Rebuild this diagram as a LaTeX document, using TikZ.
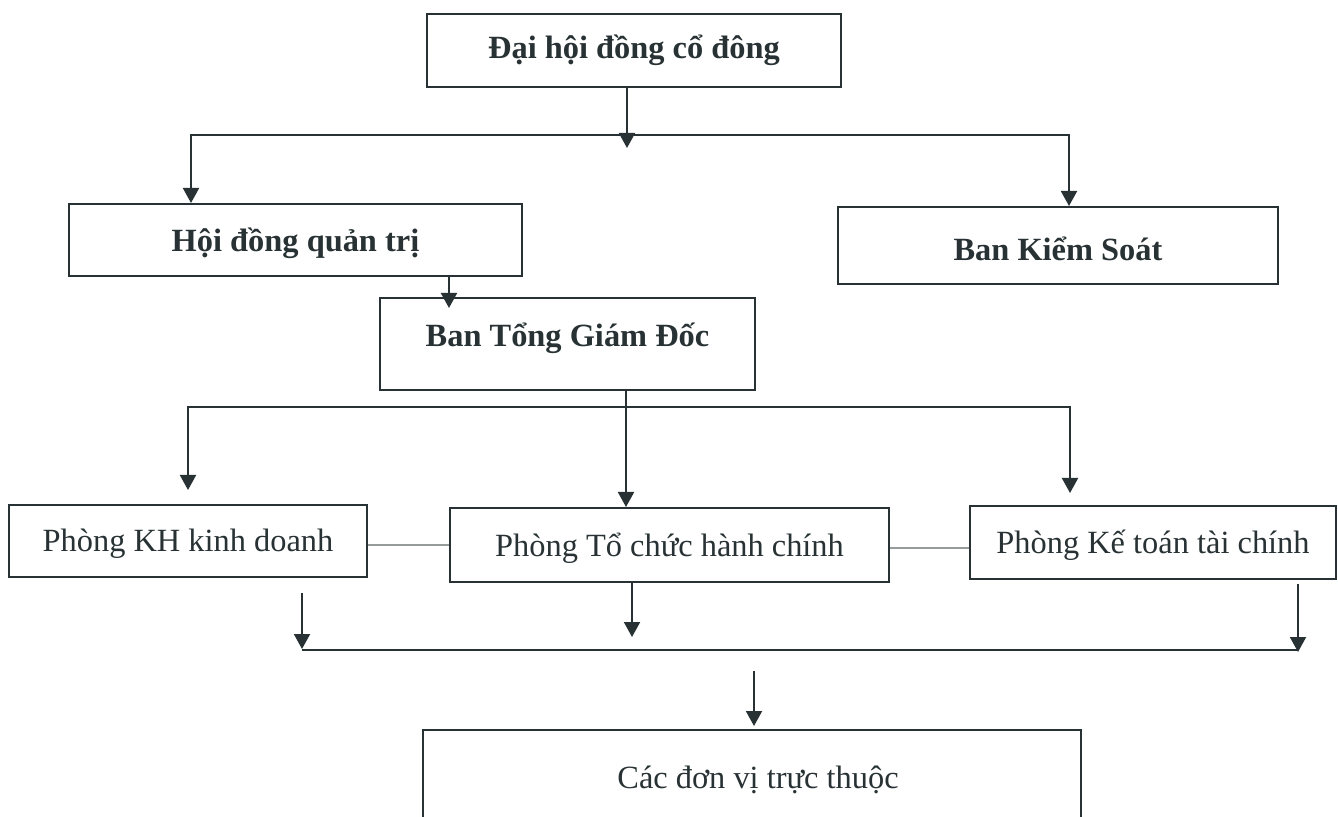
\documentclass[tikz,border=0pt]{standalone}
\usepackage{fontspec}
\setmainfont{Liberation Serif}
\usetikzlibrary{arrows.meta,calc}
\definecolor{ink}{RGB}{40,50,52}
\definecolor{linkgray}{RGB}{150,155,155}
\newcommand\lowr[1]{\raisebox{-1.5pt}[\height][\depth]{#1}}
\begin{document}
\begin{tikzpicture}[x=0.5pt,y=-0.5pt,
  box/.style={draw=ink,line width=1pt,rectangle,inner sep=0pt,text=ink,font=\fontsize{16.2}{19}\selectfont},
  bbox/.style={box,font=\fontsize{16.2}{19}\selectfont\bfseries},
  arr/.style={draw=ink,line width=1pt,-{Triangle[length=7.5pt,width=8pt]}},
  dbl/.style={draw=ink,line width=1pt,{Triangle[length=7.5pt,width=8pt]}-{Triangle[length=7.5pt,width=8pt]}},
  bus/.style={draw=ink,line width=1pt},
  link/.style={draw=linkgray,line width=0.9pt}]
\clip (0,0) rectangle (1338,817);
\fill[white] (0,0) rectangle (1338,817);

% boxes
\node[bbox,minimum width=207pt,minimum height=36.5pt] (dh) at (634,50.5) {Đại hội đồng cổ đông};
\node[bbox,minimum width=226.5pt,minimum height=36pt] (hd) at (295.5,240) {\lowr{Hội đồng quản trị}};
\node[bbox,minimum width=220pt,minimum height=38.5pt] (bks) at (1058,245.5) {\lowr{Ban Kiểm Soát}};
\node[bbox,minimum width=187.5pt,minimum height=46pt] (tgd) at (567.5,344) {};
\node[text=ink,font=\fontsize{16.2}{19}\selectfont\bfseries,inner sep=0pt] (tgdtext) at (567.5,338) {Ban Tổng Giám Đốc};
\node[box,minimum width=179pt,minimum height=36pt] (kh) at (188,541) {\lowr{Phòng KH kinh doanh}};
\node[box,minimum width=219.5pt,minimum height=37pt] (tc) at (669.5,545) {\lowr{Phòng Tổ chức hành chính}};
\node[box,minimum width=183pt,minimum height=36.5pt] (kt) at (1153,542.5) {\lowr{Phòng Kế toán tài chính}};
\node[box,minimum width=329pt,minimum height=48pt] (dv) at (752,778) {};
\node[text=ink,font=\fontsize{16.2}{19}\selectfont,inner sep=0pt] (dvtext) at (758,780) {Các đơn vị trực thuộc};

% junction coordinates
\coordinate (b1c) at (627,148);
\coordinate (b1L) at (191,135);
\coordinate (b1R) at (1069,135);
\coordinate (a2) at (449,308);
\coordinate (b2c) at (626,407);
\coordinate (b2L) at (188,407);
\coordinate (b2R) at (1070,407);
\coordinate (t2L) at (188,490);
\coordinate (t2R) at (1070,493);
\coordinate (k1) at (302,593);
\coordinate (k2) at (302,649);
\coordinate (c2) at (632,637);
\coordinate (r1) at (1298,584);
\coordinate (r2) at (1298,652);
\coordinate (b3L) at (302,650);
\coordinate (b3R) at (1298,650);
\coordinate (d1) at (754,671);
\coordinate (d2) at (754,726);

% top level
\draw[arr] (dh.south -| b1c) -- (b1c);
\draw[dbl] (hd.north -| b1L) |- (b1R) -- (bks.north -| b1R);
\draw[arr] (hd.south -| a2) -- (a2);

% second level
\draw[arr] (tgd.south -| b2c) -- (tc.north -| b2c);
\draw[dbl] (t2L) |- (b2R) -- (t2R);

% side links
\draw[link] ([yshift=-2pt]kh.east) -- ([yshift=-2pt]kh.east -| tc.west);
\draw[link] ([yshift=-1.5pt]tc.east) -- ([yshift=-1.5pt]tc.east -| kt.west);

% bottom bus
\draw[arr] (k1) -- (k2);
\draw[arr] (tc.south -| c2) -- (c2);
\draw[arr] (r1) -- (r2);
\draw[bus] (b3L) -- (b3R);
\draw[arr] (d1) -- (d2);
\end{tikzpicture}
\end{document}
